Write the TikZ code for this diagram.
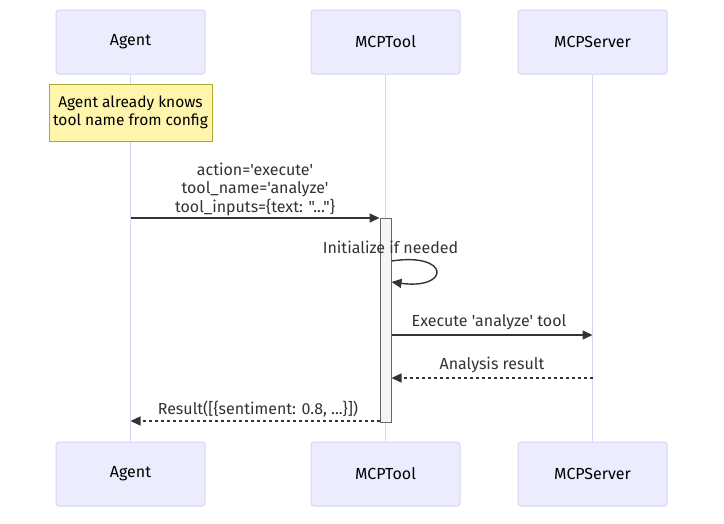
\documentclass[tikz,border=0pt]{standalone}
\usepackage{fontspec}
\newfontfamily\diafont{Fira Sans}
\usetikzlibrary{arrows.meta}
\definecolor{actorfill}{HTML}{ECECFF}
\definecolor{actorline}{HTML}{DCD3F4}
\definecolor{notefill}{HTML}{FFF5AD}
\definecolor{noteline}{HTML}{AAAA33}
\definecolor{msgcol}{HTML}{333333}
\tikzset{
	actor/.style={draw=actorline, fill=actorfill, line width=1pt, rounded corners=3pt,
		minimum width=149pt, minimum height=64pt, inner sep=0pt, font=\diafont\fontsize{16}{18}\selectfont},
	lifeline/.style={draw=actorline, line width=1pt},
	notebox/.style={draw=noteline, fill=notefill, line width=1pt, minimum width=163pt,
		minimum height=57pt, inner sep=0pt, align=center, text=black, font=\diafont\fontsize{15.5}{18}\selectfont},
	actbox/.style={draw=black!60, fill=black!4, line width=1pt, minimum width=11pt,
		minimum height=204pt, inner sep=0pt},
	msg/.style={draw=msgcol, line width=1.4pt, -{Triangle[length=10pt,width=9pt]}},
	reply/.style={msg, dash pattern=on 3pt off 3pt},
	lbl/.style={text=msgcol, inner sep=0pt, align=center, font=\diafont\fontsize{16}{18.5}\selectfont}
}
\begin{document}
\begin{tikzpicture}[x=1pt,y=-1pt]
	
	\fill[white] (0,0) rectangle (724,523);
	\useasboundingbox (0,0) rectangle (724,523);
	
	% participants, top and bottom
	\node[actor] (agentT) at (130.5,42) {Agent};
	\node[actor] (toolT) at (385.5,42) {MCPTool};
	\node[actor] (serverT) at (592.5,42) {MCPServer};
	\node[actor] (agentB) at (130.5,474) {Agent};
	\node[actor] (toolB) at (385.5,474) {MCPTool};
	\node[actor] (serverB) at (592.5,474) {MCPServer};
	
	% lifelines
	\draw[lifeline] (agentT) -- (agentB);
	\draw[lifeline] (toolT) -- (toolB);
	\draw[lifeline] (serverT) -- (serverB);
	
	% note over Agent
	\node[notebox] (note) at (130.5,112.5) {Agent already knows\\tool name from config};
	
	% activation of MCPTool
	\node[actbox] (act) at (385.5,320) {};
	
	% Agent -> MCPTool
	\node[lbl] (l1) at (255,189) {action='execute'\\tool\_name='analyze'\\tool\_inputs=\{text: "..."\}};
	\draw[msg] (agentT |- 0,218) -- (act.west |- 0,218);
	
	% self call
	\node[lbl] (l2) at (390.5,247) {Initialize if needed};
	\draw[msg] (act.east |- 0,261) .. controls +(59,-9) and +(59,8) .. (act.east |- 0,282);
	
	% MCPTool -> MCPServer
	\node[lbl] (l3) at (489,322) {Execute 'analyze' tool};
	\draw[msg] (act.east |- 0,335) -- (serverT |- 0,335);
	
	% MCPServer --> MCPTool
	\node[lbl] (l4) at (492,365) {Analysis result};
	\draw[reply] (serverT |- 0,378) -- (act.east |- 0,378);
	
	% MCPTool --> Agent
	\node[lbl] (l5) at (258,409) {Result([\{sentiment: 0.8, ...\}])};
	\draw[reply] (act.west |- 0,421) -- (agentT |- 0,421);
	
\end{tikzpicture}
\end{document}
